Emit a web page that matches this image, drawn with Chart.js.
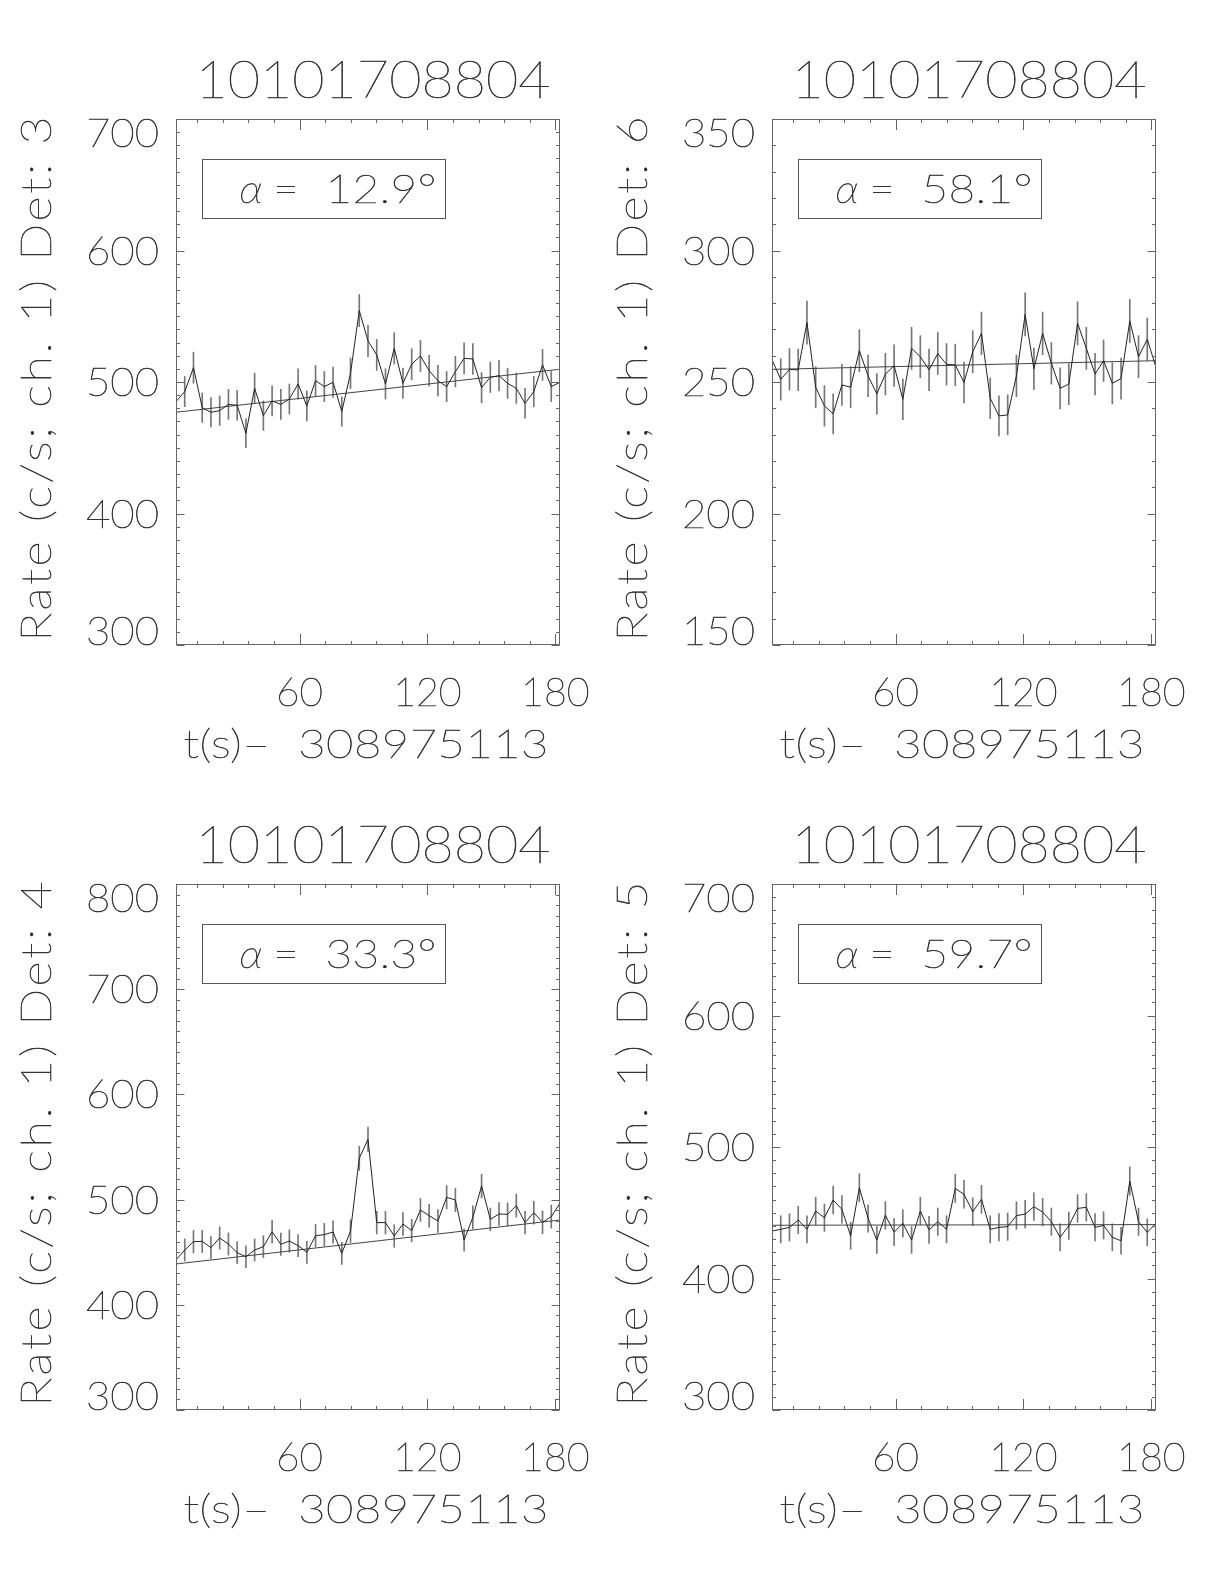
<!DOCTYPE html>
<html lang="en">
<head>
<meta charset="UTF-8" />
<title>10101708804</title>
<script src="https://cdn.jsdelivr.net/npm/chart.js"></script>
<style>
  body { margin: 0; background: #fff; }
  #page { position: relative; width: 1224px; height: 1584px; }
  canvas { position: absolute; }
</style>
</head>
<body>
<div id="page">
  <canvas id="c3" width="612" height="792" style="left:0;top:0"></canvas>
  <canvas id="c6" width="612" height="792" style="left:612px;top:0"></canvas>
  <canvas id="c4" width="612" height="792" style="left:0;top:792px"></canvas>
  <canvas id="c5" width="612" height="792" style="left:612px;top:792px"></canvas>
</div>
<script>
// bin times, s after 308975113
const times = [2.0, 6.1, 10.2, 14.3, 18.4, 22.5, 26.6, 30.7, 34.8, 38.9,
  43.0, 47.1, 51.2, 55.2, 59.3, 63.4, 67.5, 71.6, 75.7, 79.8,
  83.9, 88.0, 92.1, 96.2, 100.3, 104.4, 108.5, 112.6, 116.7, 120.8,
  124.9, 129.0, 133.1, 137.2, 141.3, 145.4, 149.5, 153.6, 157.6, 161.7,
  165.8, 169.9, 174.0, 178.1, 182.2];

const rateDet3 = [485.1, 492.7, 510.9, 480.5, 477.0, 478.2, 483.0, 482.3, 461.0, 495.2,
  474.4, 485.6, 483.0, 487.1, 498.5, 481.8, 501.0, 496.5, 499.8, 477.5,
  506.6, 554.3, 531.2, 520.6, 498.5, 525.6, 499.0, 513.5, 519.8, 508.6,
  501.0, 496.5, 507.9, 518.0, 517.5, 495.7, 503.6, 504.8, 499.0, 495.2,
  483.8, 492.7, 513.0, 496.5, 499.8];
const errDet3 = [11.4, 11.5, 11.8, 11.2, 11.2, 11.2, 11.4, 11.4, 11.0, 11.5,
  11.2, 11.4, 11.4, 11.4, 11.5, 11.4, 11.6, 11.5, 11.5, 11.2,
  11.6, 12.2, 11.9, 11.8, 11.5, 11.9, 11.5, 11.8, 11.8, 11.6,
  11.6, 11.5, 11.6, 11.8, 11.8, 11.5, 11.6, 11.6, 11.5, 11.5,
  11.4, 11.5, 11.8, 11.5, 11.5];

const rateDet6 = [258.4, 251.0, 254.8, 254.6, 272.6, 248.0, 240.9, 237.9, 248.9, 248.0,
  261.9, 252.3, 245.5, 253.0, 256.2, 243.4, 262.8, 259.6, 254.6, 260.8,
  256.7, 256.5, 249.8, 261.5, 268.5, 243.8, 237.1, 237.5, 252.3, 275.7,
  255.0, 268.5, 257.1, 247.6, 249.2, 272.3, 262.8, 253.0, 258.1, 249.5,
  251.3, 273.2, 259.6, 266.2, 255.6];
const errDet6 = [8.0, 7.9, 7.9, 7.9, 8.2, 7.8, 7.7, 7.6, 7.8, 7.8,
  8.0, 7.9, 7.7, 7.9, 7.9, 7.7, 8.0, 8.0, 7.9, 8.0,
  7.9, 7.9, 7.8, 8.0, 8.1, 7.7, 7.6, 7.6, 7.9, 8.2,
  7.9, 8.1, 7.9, 7.8, 7.8, 8.2, 8.0, 7.9, 7.9, 7.8,
  7.8, 8.2, 8.0, 8.1, 7.9];

const rateDet4 = [442.6, 452.1, 460.0, 460.3, 454.3, 463.5, 457.8, 449.5, 445.7, 452.1,
  455.2, 469.5, 457.5, 460.6, 456.2, 449.9, 465.7, 466.7, 469.2, 448.9,
  470.1, 539.2, 557.3, 478.1, 478.1, 465.4, 476.8, 470.5, 490.1, 484.7,
  479.7, 502.2, 499.6, 461.6, 483.1, 512.9, 481.2, 486.3, 486.0, 494.2,
  478.1, 487.6, 478.4, 483.8, 496.5];
const errDet4 = [10.4, 10.5, 10.6, 10.6, 10.5, 10.6, 10.6, 10.5, 10.4, 10.5,
  10.5, 10.7, 10.6, 10.6, 10.5, 10.5, 10.7, 10.7, 10.7, 10.5,
  10.7, 11.5, 11.7, 10.8, 10.8, 10.7, 10.8, 10.7, 10.9, 10.9,
  10.8, 11.1, 11.0, 10.6, 10.9, 11.2, 10.8, 10.9, 10.9, 11.0,
  10.8, 10.9, 10.8, 10.9, 11.0];

const rateDet5 = [436.1, 437.4, 438.9, 444.5, 437.4, 451.3, 446.2, 459.7, 452.6, 432.5,
  469.0, 445.7, 429.3, 448.0, 435.3, 441.9, 429.3, 451.3, 436.9, 443.2,
  437.4, 468.5, 464.0, 450.8, 460.2, 437.4, 438.9, 439.4, 447.8, 449.0,
  454.6, 450.5, 443.2, 431.3, 440.2, 453.3, 454.1, 438.9, 440.4, 431.3,
  428.7, 474.1, 443.2, 435.1, 441.9];
const errDet5 = [10.3, 10.3, 10.4, 10.4, 10.3, 10.5, 10.4, 10.6, 10.5, 10.3,
  10.7, 10.4, 10.2, 10.5, 10.3, 10.4, 10.2, 10.5, 10.3, 10.4,
  10.3, 10.7, 10.6, 10.5, 10.6, 10.3, 10.4, 10.4, 10.5, 10.5,
  10.5, 10.5, 10.4, 10.3, 10.4, 10.5, 10.5, 10.4, 10.4, 10.3,
  10.2, 10.8, 10.4, 10.3, 10.4];

// linear background fit, value at first and last bin
const fitDet3 = [477.0, 509.7];
const fitDet6 = [254.8, 258.1];
const fitDet4 = [438.8, 480.6];
const fitDet5 = [440.5, 441.0];

const obsId = "10101708804";
const xTitle = "t(s)\u2013  308975113";
const xTicks = [60, 120, 180];
const alphas = ["12.9", "58.1", "33.3", "59.7"];
const dets = [3, 6, 4, 5];
const yRanges = [[300, 700], [150, 350], [300, 800], [300, 700]];
const yMajor = [100, 50, 100, 100];

const FONT = "Lato, Roboto, 'DejaVu Sans', sans-serif";

// widen glyphs a little, then spread them so the string spans `width` px
function drawText(ctx, s, x, y, size, width, align, italic) {
  const sx = 1.18;
  ctx.save();
  ctx.font = (italic ? "italic " : "") + "100 " + size + "px " + FONT;
  ctx.letterSpacing = "0px";
  const m = ctx.measureText(s).width;
  const n = [...s].length;
  let k = sx;
  let ls = n > 1 ? (width / k - m) / (n - 1) : 0;
  if (ls < 0 || n === 1) { k = width / m; ls = 0; }
  ctx.letterSpacing = ls + "px";
  const x0 = align === "center" ? x - width / 2 : align === "right" ? x - width : x;
  ctx.translate(x0, y);
  ctx.scale(k, 1);
  ctx.textAlign = "left";
  ctx.textBaseline = "alphabetic";
  ctx.fillStyle = "#222";
  ctx.strokeStyle = "#333";
  ctx.lineWidth = 0.6;
  ctx.fillText(s, 0, 0);
  ctx.strokeText(s, 0, 0);
  ctx.restore();
}

const idlFrame = {
  id: "idlFrame",
  afterDraw(chart, args, o) {
    const ctx = chart.ctx;
    const a = chart.chartArea;
    const xs = chart.scales.x, ys = chart.scales.y;
    const L = Math.round(a.left) + 0.5, R = Math.round(a.right) - 0.5;
    const T = Math.round(a.top) + 0.5, B = Math.round(a.bottom) - 0.5;
    ctx.save();
    ctx.strokeStyle = "#666";
    ctx.lineWidth = 1;
    ctx.strokeRect(L, T, R - L, B - T);
    ctx.beginPath();
    // y ticks, both sides
    for (let v = ys.min; v <= ys.max + 1e-6; v += 10) {
      const y = Math.round(ys.getPixelForValue(v)) + 0.5;
      const len = Math.abs(v / o.major - Math.round(v / o.major)) < 1e-6 ? 8 : 3.5;
      ctx.moveTo(L, y); ctx.lineTo(L + len, y);
      ctx.moveTo(R, y); ctx.lineTo(R - len, y);
    }
    // x ticks, top and bottom
    for (let v = 12; v <= xs.max; v += 12) {
      const x = Math.round(xs.getPixelForValue(v)) + 0.5;
      const len = v % 60 === 0 ? 10.5 : 3.5;
      ctx.moveTo(x, B); ctx.lineTo(x, B - len);
      ctx.moveTo(x, T); ctx.lineTo(x, T + len);
    }
    ctx.stroke();

    // y tick labels
    for (let v = ys.min; v <= ys.max + 1e-6; v += o.major) {
      let base = ys.getPixelForValue(v) + 14;
      if (v === ys.max) base = a.top + 28;
      if (v === ys.min) base = a.bottom;
      drawText(ctx, String(v), a.left - 17, base, 39, 73, "right");
    }
    // x tick labels
    xTicks.forEach(v => {
      const s = String(v);
      drawText(ctx, s, xs.getPixelForValue(v), a.bottom + 60.5, 40, s.length === 2 ? 47 : 68.5, "center");
    });
    const cx = (a.left + a.right) / 2;
    drawText(ctx, xTitle, cx - 2, a.bottom + 113, 40, 365, "center");
    drawText(ctx, obsId, cx + 5, a.top - 21, 51, 355, "center");

    // y title, rotated
    ctx.save();
    ctx.translate(a.left - 125, (a.top + a.bottom) / 2 - 3);
    ctx.rotate(-Math.PI / 2);
    drawText(ctx, "Rate (c/s; ch. 1) Det: " + o.det, 0, 0, 41, 525, "center");
    ctx.restore();

    // angle box
    const bx = Math.round(a.left + 25.5) + 0.5, by = Math.round(a.top + 40) + 0.5;
    ctx.strokeStyle = "#555";
    ctx.lineWidth = 1;
    ctx.strokeRect(bx, by, 243, 59);
    drawText(ctx, "\u03b1", bx + 37, by + 43.5, 40, 23, "left", true);
    drawText(ctx, "=", bx + 71, by + 43.5, 40, 25, "left");
    drawText(ctx, o.alpha + "\u00b0", bx + 123, by + 43.5, 39, 111, "left");
    ctx.restore();
  }
};

function makePanel(id, rate, err, fit, k) {
  const line = times.map((t, i) => ({ x: t, y: rate[i] }));
  const bars = times.map((t, i) => ({ x: t, y: [rate[i] - err[i], rate[i] + err[i]] }));
  const fitLine = [{ x: times[0], y: fit[0] }, { x: times[times.length - 1], y: fit[1] }];
  const pad = id === "c3" ? { left: 176, top: 119, right: 52, bottom: 147 }
            : id === "c6" ? { left: 160, top: 119, right: 68, bottom: 147 }
            : id === "c4" ? { left: 176, top: 92, right: 52, bottom: 174 }
            : { left: 160, top: 92, right: 68, bottom: 174 };
  new Chart(document.getElementById(id), {
    type: "line",
    data: {
      datasets: [
        { data: line, borderColor: "#222", borderWidth: 1, pointRadius: 0, tension: 0, order: 0 },
        { type: "bar", data: bars, backgroundColor: "#777", borderWidth: 0, barThickness: 1, order: 2 },
        { data: fitLine, borderColor: "#444", borderWidth: 1, pointRadius: 0, order: 1 }
      ]
    },
    options: {
      responsive: false,
      animation: false,
      events: [],
      layout: { padding: pad },
      plugins: {
        legend: { display: false },
        tooltip: { enabled: false },
        idlFrame: { major: yMajor[k], det: dets[k], alpha: alphas[k] }
      },
      scales: {
        x: { type: "linear", min: times[0], max: times[times.length - 1], offset: false, display: false },
        y: { type: "linear", min: yRanges[k][0], max: yRanges[k][1], display: false }
      }
    },
    plugins: [idlFrame]
  });
}

makePanel("c3", rateDet3, errDet3, fitDet3, 0);
makePanel("c6", rateDet6, errDet6, fitDet6, 1);
makePanel("c4", rateDet4, errDet4, fitDet4, 2);
makePanel("c5", rateDet5, errDet5, fitDet5, 3);
</script>
</body>
</html>
